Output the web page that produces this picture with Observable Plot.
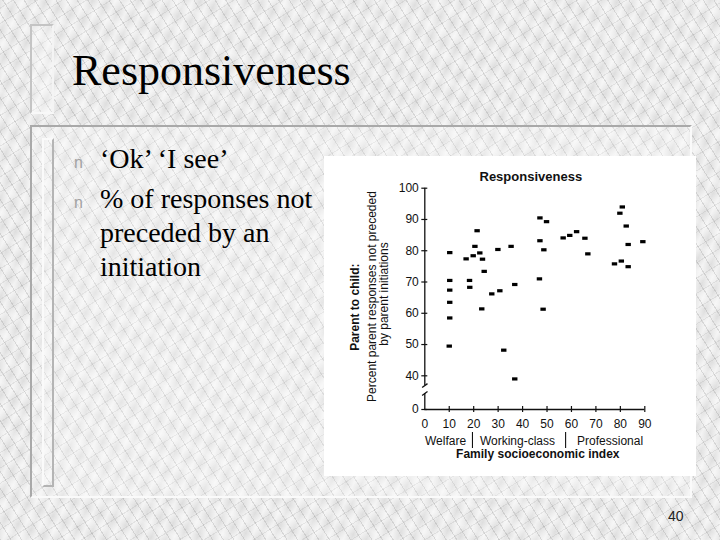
<!DOCTYPE html>
<html>
<head>
<meta charset="utf-8">
<script src="https://cdn.jsdelivr.net/npm/d3@7"></script>
<script src="https://cdn.jsdelivr.net/npm/@observablehq/plot@0.6"></script>
<style>
  html, body { margin: 0; padding: 0; }
  body { width: 720px; height: 540px; overflow: hidden; }
  #slide {
    position: relative; width: 720px; height: 540px; overflow: hidden;
    background-color: #dedede;
    background-image:
      repeating-linear-gradient(58deg, rgba(120,120,120,0.22) 0px, rgba(120,120,120,0.22) 1px, transparent 1px, transparent 9px),
      repeating-linear-gradient(-32deg, rgba(150,150,150,0.18) 0px, rgba(150,150,150,0.18) 1px, transparent 1px, transparent 13px),
      repeating-linear-gradient(115deg, rgba(255,255,255,0) 0px, rgba(255,255,255,0.6) 7px, rgba(255,255,255,0) 14px),
      repeating-linear-gradient(25deg, rgba(255,255,255,0) 0px, rgba(255,255,255,0.4) 11px, rgba(255,255,255,0) 22px);
  }
  .deco1 { position: absolute; left: 30px; top: 24px; width: 20px; height: 86px;
    border: 2px solid; border-color: #c4c4c4 #f4f4f4 #f8f8f8 #c4c4c4; background: rgba(255,255,255,0.25); }
  .panel { position: absolute; left: 30px; top: 125px; width: 658px; height: 369px;
    border: 2px solid; border-color: #a9a9a9 #fafafa #fafafa #a9a9a9; background: rgba(255,255,255,0.22); }
  .deco2 { position: absolute; left: 42px; top: 138px; width: 8px; height: 345px;
    border: 2px solid; border-color: #fafafa #b4b4b4 #b4b4b4 #fafafa; background: rgba(255,255,255,0.15); }
  .title { position: absolute; left: 72px; top: 49px; font-family: "Liberation Serif", "Times New Roman", serif;
    font-size: 44px; line-height: 44px; color: #000; white-space: nowrap; }
  .item { position: absolute; left: 74px; padding-left: 26px; text-indent: -26px;
    font-family: "Liberation Serif", "Times New Roman", serif;
    font-size: 28px; line-height: 34px; color: #000; white-space: nowrap; }
  .item .b { display: inline-block; width: 26px; text-indent: 0; line-height: 16px;
    font-family: "Liberation Sans", Arial, sans-serif; font-size: 16px; color: #a2a2a2; }
  #chart { position: absolute; left: 324px; top: 156px; width: 372px; height: 320px; background: #fff; }
  #chart svg { display: block; }
  .pg { position: absolute; left: 668px; top: 509px; font-family: "Liberation Sans", Arial, sans-serif;
    font-size: 14px; line-height: 14px; color: #222; }
</style>
</head>
<body>
<div id="slide">
  <div class="deco1"></div>
  <div class="title">Responsiveness</div>
  <div class="panel"></div>
  <div class="deco2"></div>
  <div class="item" style="top:141.5px"><span class="b">n</span>‘Ok’ ‘I see’</div>
  <div class="item" style="top:181.5px"><span class="b">n</span>% of responses not<br>preceded by an<br>initiation</div>
  <div id="chart"></div>
  <div class="pg">40</div>
</div>
<script>
// ---- data ----
const seIndex = [10.2, 10.2, 10.2, 10.2, 10.2, 10.0, 16.9, 18.3, 18.4, 19.8, 20.5, 21.4, 22.5, 23.6, 24.3, 23.3,
  27.4, 30.7, 29.9, 32.3, 35.3, 36.8, 36.8, 47.1, 49.8, 47.1, 48.7, 46.9, 48.4, 56.6, 59.3, 62.1, 65.5, 66.7,
  77.6, 80.4, 83.2, 79.8, 80.8, 82.4, 83.2, 89.2];
const pctResponses = [79.4, 70.5, 67.4, 63.5, 58.5, 49.5, 77.4, 70.5, 68.3, 78.4, 81.4, 86.4, 79.3, 77.3, 73.4, 61.4,
  66.2, 67.2, 80.4, 48.2, 81.4, 69.2, 39.0, 90.5, 89.3, 83.2, 80.3, 71.0, 61.3, 84.1, 84.9, 86.1, 84.0, 79.0,
  75.8, 76.7, 74.9, 92.0, 94.0, 87.9, 82.0, 82.9];
const xTicks = [0, 10, 20, 30, 40, 50, 60, 70, 80, 90];
const yTicks = [0, 40, 50, 60, 70, 80, 90, 100];
const groupLabels = ["Welfare", "Working-class", "Professional"];
const groupLabelX = [8.5, 37.9, 75.8];
const groupBounds = [19.5, 57.6];
const chartTitle = "Responsiveness";
const xTitle = "Family socioeconomic index";
const yTitleLines = ["Parent to child:", "Percent parent responses not preceded", "by parent initiations"];
const yBreakTop = 36.9;     // end of upper axis segment
const yBreakBottom = 24.6;  // start of lower axis segment

const points = seIndex.map((x, i) => ({x, y: pctResponses[i]}));
const groups = groupLabels.map((label, i) => ({label, x: groupLabelX[i]}));
const breaks = [
  {x1: -1.1, y1: yBreakTop - 3, x2: 1.1, y2: yBreakTop + 0.6},
  {x1: -1.1, y1: yBreakBottom - 3, x2: 1.1, y2: yBreakBottom + 3}
];

const rectSymbol = { draw(ctx) { ctx.rect(-2.7, -1.6, 5.4, 3.2); } };
const ink = "#111";
const sans = "Liberation Sans, Arial, sans-serif";

const chart = Plot.plot({
  width: 372,
  height: 320,
  marginLeft: 100.3,
  marginRight: 51.7,
  marginTop: 31.7,
  marginBottom: 67,
  style: {fontFamily: sans, background: "#fff", color: ink, overflow: "visible"},
  x: {domain: [0, 90], axis: null},
  y: {type: "linear", domain: [0, yBreakTop, 100], range: [253, 229, 31.7], axis: null},
  marks: [
    // axis lines
    Plot.ruleY([0], {x1: 0, x2: 90, stroke: ink, strokeWidth: 1.3}),
    Plot.ruleX([0], {y1: 100, y2: yBreakTop, stroke: ink, strokeWidth: 1.3}),
    Plot.ruleX([0], {y1: yBreakBottom, y2: 0, stroke: ink, strokeWidth: 1.3}),
    Plot.link(breaks, {x1: "x1", y1: "y1", x2: "x2", y2: "y2", stroke: ink, strokeWidth: 1.3}),
    // crossing tick marks
    Plot.ruleY(yTicks, {x1: 0, x2: 0, insetLeft: -3, insetRight: -3, stroke: ink, strokeWidth: 1.2}),
    Plot.ruleX(xTicks.filter(d => d > 0), {y1: 0, y2: 0, insetTop: -3, insetBottom: -3, stroke: ink, strokeWidth: 1.2}),
    // tick labels
    Plot.text(yTicks, {x: 0, y: d => d, text: d => String(d), textAnchor: "end", dx: -6, fontSize: 12, fill: ink}),
    Plot.text(xTicks, {x: d => d, y: 0, text: d => String(d), dy: 15, fontSize: 12, fill: ink}),
    // group labels and separators
    Plot.text(groups, {x: "x", y: 0, text: "label", dy: 31.8, fontSize: 12, fill: ink}),
    Plot.ruleX(groupBounds, {y1: 0, y2: 0, insetTop: 23, insetBottom: -39, stroke: ink, strokeWidth: 1.1}),
    // titles
    Plot.text([xTitle], {frameAnchor: "bottom", textAnchor: "middle", dx: 3, dy: 48.8, fontSize: 12, fontWeight: "bold", fill: ink}),
    Plot.text([chartTitle], {frameAnchor: "top", textAnchor: "middle", dx: -4, dy: -16.9, fontSize: 13, fontWeight: "bold", fill: ink}),
    Plot.text([yTitleLines[0]], {frameAnchor: "left", textAnchor: "middle", rotate: -90, dx: -69.3, dy: 8.3, fontSize: 12, fontWeight: "bold", fill: ink}),
    Plot.text([yTitleLines[1]], {frameAnchor: "left", textAnchor: "middle", rotate: -90, dx: -52.5, dy: -2.3, fontSize: 12, fill: ink}),
    Plot.text([yTitleLines[2]], {frameAnchor: "left", textAnchor: "middle", rotate: -90, dx: -40.5, dy: -4.8, fontSize: 12, fill: ink}),
    // data points
    Plot.dot(points, {x: "x", y: "y", symbol: rectSymbol, fill: "#000", stroke: "none"})
  ]
});
document.getElementById("chart").appendChild(chart);
</script>
</body>
</html>
